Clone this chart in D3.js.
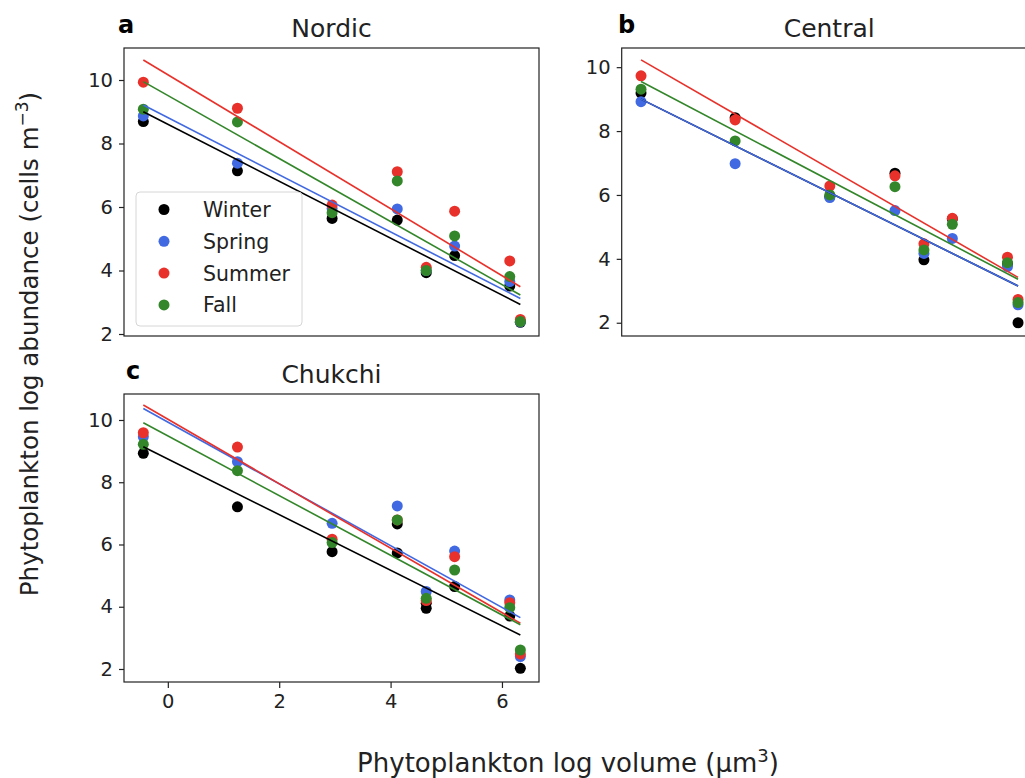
<!DOCTYPE html>
<html>
<head>
<meta charset="utf-8">
<script src="https://cdn.jsdelivr.net/npm/d3@7"></script>
<style>
  body { margin: 0; background: #fff; }
  svg { display: block; font-family: "DejaVu Sans", sans-serif; }
</style>
</head>
<body>
<div id="chart-area"></div>
<script>
// size classes (log volume) shared by all panels
var sizes = [-0.44, 1.25, 2.95, 4.12, 4.64, 5.15, 6.14, 6.33];
var seasons = ["Winter", "Spring", "Summer", "Fall"];
var colors = ["#000000", "#4169e1", "#e8312a", "#33862a"];
var xTicks = [0, 2, 4, 6];
var yTicks = [2, 4, 6, 8, 10];

// Nordic
var nordicWinter = [8.69, 7.14, 5.64, 5.59, 3.93, 4.47, 3.51, 2.37];
var nordicSpring = [8.87, 7.38, 5.95, 5.94, 4.00, 4.77, 3.65, 2.38];
var nordicSummer = [9.93, 9.11, 6.06, 7.11, 4.10, 5.87, 4.30, 2.46];
var nordicFall   = [9.08, 8.68, 5.82, 6.82, 4.00, 5.09, 3.81, 2.39];

// Central
var centralWinter = [9.19, 8.42, 5.95, 6.68, 3.97, 5.25, 3.85, 2.00];
var centralSpring = [8.92, 6.98, 5.92, 5.51, 4.17, 4.64, 3.76, 2.56];
var centralSummer = [9.73, 8.35, 6.28, 6.60, 4.47, 5.27, 4.05, 2.73];
var centralFall   = [9.31, 7.69, 6.00, 6.26, 4.28, 5.08, 3.88, 2.63];

// Chukchi
var chukchiWinter = [8.93, 7.21, 5.77, 6.66, 4.11, 4.65, 3.70, 2.02];
var chukchiWinterExtra = [[4.12, 5.73], [4.64, 3.95]];
var chukchiSpring = [9.46, 8.66, 6.68, 7.24, 4.49, 5.79, 4.22, 2.40];
var chukchiSummer = [9.59, 9.13, 6.17, 6.79, 4.20, 5.61, 4.13, 2.48];
var chukchiFall   = [9.22, 8.37, 6.06, 6.79, 4.27, 5.18, 3.97, 2.61];

// fitted lines: value at start and end of fitX, per season
var fitX = [-0.44, 6.33];
var nordicFits  = [[9.00, 2.93], [9.21, 3.12], [10.63, 3.49], [9.95, 3.23]];
var centralFits = [[9.00, 3.15], [9.00, 3.15], [10.23, 3.42], [9.55, 3.36]];
var chukchiFits = [[9.14, 3.09], [10.37, 3.65], [10.48, 3.47], [9.91, 3.42]];

var svg = d3.select("#chart-area")
	.append("svg")
		.attr("width", 1025)
		.attr("height", 778);

var panels = [
	{ name: "Nordic", label: "a", lx: 118, left: 124, top: 48, yDom: [1.937, 11.008],
	  values: [nordicWinter, nordicSpring, nordicSummer, nordicFall], extra: [],
	  fits: nordicFits, xLabels: false, legend: true },
	{ name: "Central", label: "b", lx: 618, left: 621.7, top: 48, yDom: [1.585, 10.60],
	  values: [centralWinter, centralSpring, centralSummer, centralFall], extra: [],
	  fits: centralFits, xLabels: false, legend: false },
	{ name: "Chukchi", label: "c", lx: 126, left: 124, top: 394, yDom: [1.582, 10.835],
	  values: [chukchiWinter, chukchiSpring, chukchiSummer, chukchiFall], extra: chukchiWinterExtra,
	  fits: chukchiFits, xLabels: true, legend: false }
];

var w = 415, h = 288;

panels.forEach(function(p){
	var g = svg.append("g")
		.attr("transform", "translate(" + p.left + "," + p.top + ")");

	var x = d3.scaleLinear().domain([-0.787, 6.665]).range([0, w]);
	var y = d3.scaleLinear().domain(p.yDom).range([h, 0]);

	// y axis
	var yAxis = d3.axisLeft(y).tickValues(yTicks).tickSize(5).tickPadding(6);
	var ya = g.append("g").call(yAxis);
	ya.select(".domain").remove();
	ya.selectAll("line").attr("stroke", "#222").attr("stroke-width", 1.2);
	ya.selectAll("text").attr("font-size", "19.5px").attr("fill", "#222")
		.attr("font-family", "DejaVu Sans");

	if (p.xLabels) {
		var xAxis = d3.axisBottom(x).tickValues(xTicks).tickSize(6).tickPadding(6);
		var xa = g.append("g").attr("transform", "translate(0," + h + ")").call(xAxis);
		xa.select(".domain").remove();
		xa.selectAll("line").attr("stroke", "#222").attr("stroke-width", 1.2);
		xa.selectAll("text").attr("font-size", "19.5px").attr("fill", "#222")
			.attr("font-family", "DejaVu Sans");
	}

	// points
	p.values.forEach(function(vals, i){
		g.selectAll(".pt" + i)
			.data(vals)
			.enter().append("circle")
				.attr("cx", function(d, j){ return x(sizes[j]); })
				.attr("cy", function(d){ return y(d); })
				.attr("r", 5.5)
				.attr("fill", colors[i]);
		if (i == 0) {
			g.selectAll(".ex")
				.data(p.extra)
				.enter().append("circle")
					.attr("cx", function(d){ return x(d[0]); })
					.attr("cy", function(d){ return y(d[1]); })
					.attr("r", 5.5)
					.attr("fill", colors[0]);
		}
	});

	// fitted lines
	var line = d3.line()
		.x(function(d, j){ return x(fitX[j]); })
		.y(function(d){ return y(d); });
	p.fits.forEach(function(f, i){
		g.append("path")
			.attr("d", line(f))
			.attr("fill", "none")
			.attr("stroke", colors[i])
			.attr("stroke-width", 1.6);
	});

	// frame
	g.append("rect")
		.attr("width", w).attr("height", h)
		.attr("fill", "none")
		.attr("stroke", "#222")
		.attr("stroke-width", 1.2);

	// title + panel label
	g.append("text")
		.attr("x", w / 2)
		.attr("y", -11)
		.attr("text-anchor", "middle")
		.attr("font-size", "25px")
		.attr("fill", "#222")
		.text(p.name);
	svg.append("text")
		.attr("x", p.lx)
		.attr("y", p.top - 15)
		.attr("font-size", "24px")
		.attr("font-weight", "bold")
		.attr("fill", "#000")
		.text(p.label);

	if (p.legend) {
		var lg = g.append("g").attr("transform", "translate(12,144)");
		lg.append("rect")
			.attr("width", 166).attr("height", 134)
			.attr("rx", 4)
			.attr("fill", "#fff").attr("fill-opacity", 0.8)
			.attr("stroke", "#d6d6d6");
		seasons.forEach(function(s, i){
			lg.append("circle")
				.attr("cx", 28).attr("cy", 17.5 + i * 31.8)
				.attr("r", 5.5)
				.attr("fill", colors[i]);
			lg.append("text")
				.attr("x", 67).attr("y", 17.5 + i * 31.8 + 7.5)
				.attr("font-size", "20.5px")
				.attr("fill", "#222")
				.text(s);
		});
	}
});

// axis labels
var yl = svg.append("text")
	.attr("transform", "translate(38,344) rotate(-90)")
	.attr("text-anchor", "middle")
	.attr("font-size", "24.5px")
	.attr("fill", "#222");
yl.append("tspan").text("Phytoplankton log abundance (cells m");
yl.append("tspan").attr("dy", -10).attr("font-size", "17px").text("\u22123");
yl.append("tspan").attr("dy", 10).text(")");

var xl = svg.append("text")
	.attr("x", 568)
	.attr("y", 772)
	.attr("text-anchor", "middle")
	.attr("font-size", "26px")
	.attr("fill", "#222");
xl.append("tspan").text("Phytoplankton log volume (\u03bcm");
xl.append("tspan").attr("dy", -10).attr("font-size", "18px").text("3");
xl.append("tspan").attr("dy", 10).text(")");
</script>
</body>
</html>
